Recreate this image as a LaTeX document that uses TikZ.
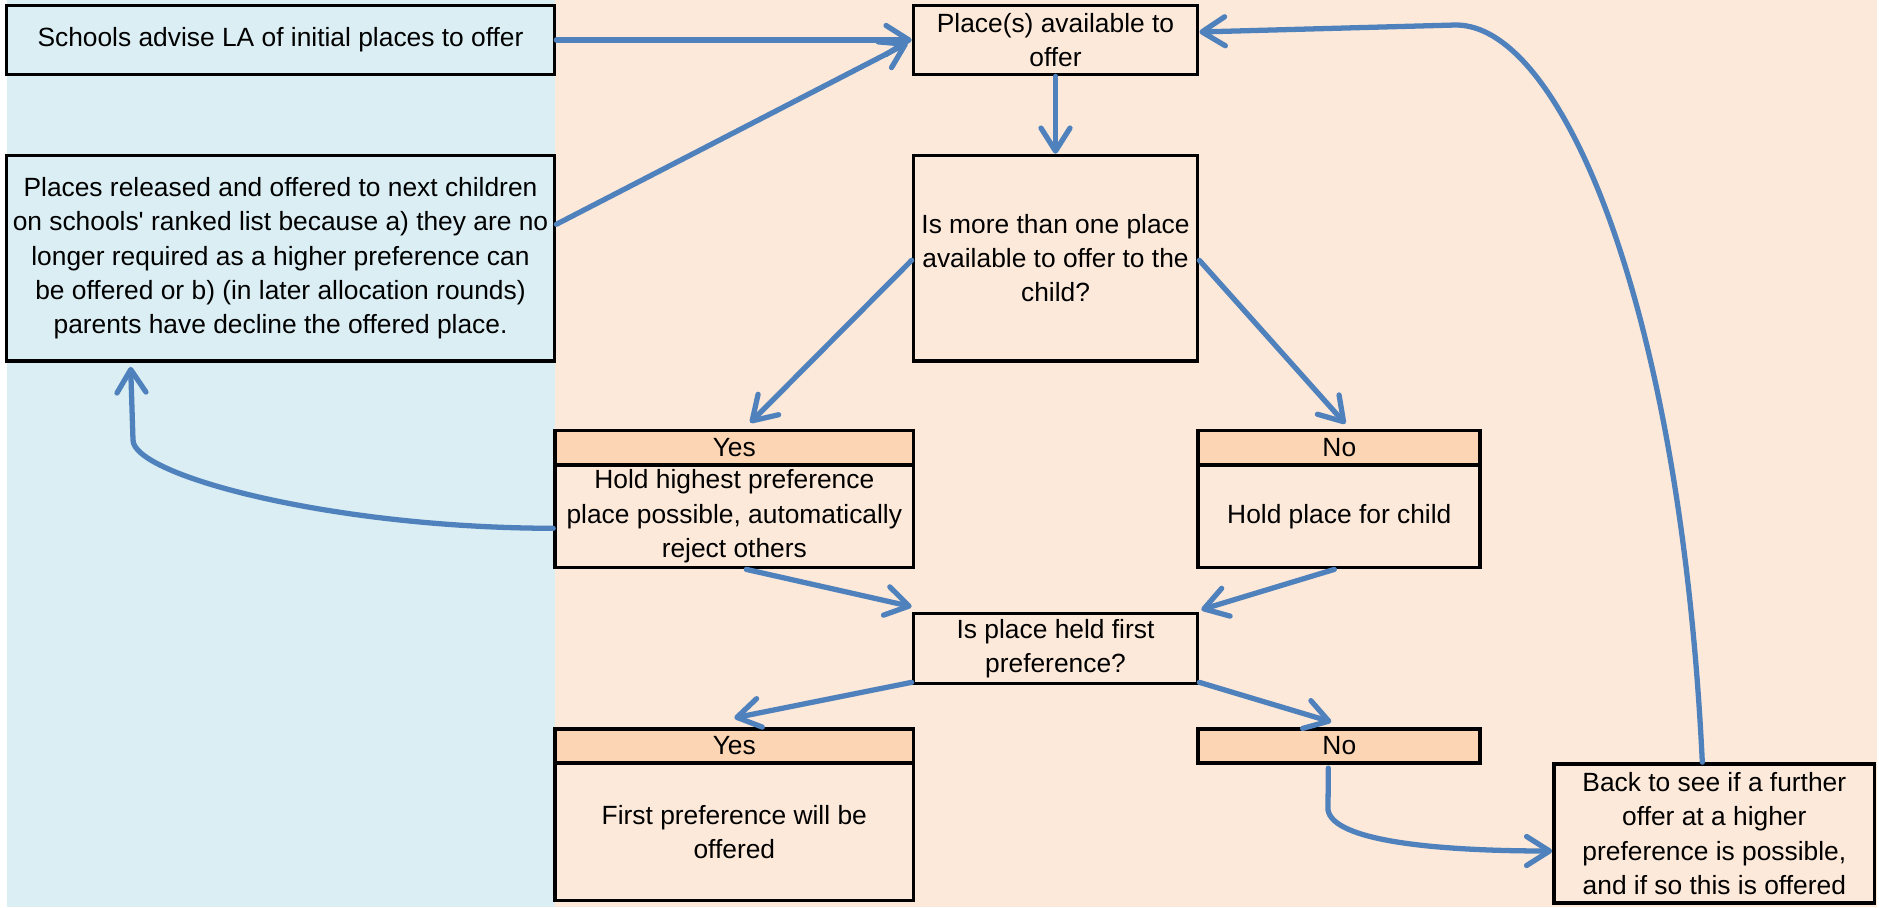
\documentclass[tikz,border=0pt]{standalone}
\usepackage{fontspec}
\setmainfont{Liberation Sans}
\usepackage{tikz}
\usetikzlibrary{arrows.meta,calc}
\usepackage{xcolor}
\definecolor{bluebg}{HTML}{DAEEF3}
\definecolor{peachbg}{HTML}{FDE9D9}
\definecolor{hdrfill}{HTML}{FCD5B4}
\definecolor{flowblue}{HTML}{4F81BD}

\begin{document}
\begin{tikzpicture}[x=0.2mm,y=-0.2mm]
      \tikzstyle{stage} = [rectangle, draw, line width=2.1pt, align=center, inner sep=2pt, font=\fontsize{15}{19.5}\selectfont]
      \tikzstyle{header} = [stage, fill=hdrfill, minimum height=6.9mm]
      \tikzstyle{flow} = [draw=flowblue, line width=3pt, line cap=round, -{Straight Barb[length=4.6mm,width=5.8mm,round]}]

      \useasboundingbox (0,0) rectangle (1879,908);
      \fill[bluebg] (7,0) rectangle (555,907);
      \fill[peachbg] (555,0) rectangle (1877,907);

      \node[stage, minimum width=109.6mm, minimum height=13.8mm] (schools) at (280.5,40) {Schools advise LA of initial places to offer};
      \node[stage, minimum width=109.6mm, minimum height=41.1mm] (released) at (280.5,258.3) {Places released and offered to next children\\on schools\textquotesingle{} ranked list because a) they are no\\longer required as a higher preference can\\be offered or b) (in later allocation rounds)\\parents have decline the offered place.};
      \node[stage, minimum width=56.8mm, minimum height=13.8mm] (avail) at (1055.5,40) {Place(s) available to\\offer};
      \node[stage, minimum width=56.8mm, minimum height=41.1mm] (more) at (1055.5,258.3) {Is more than one place\\available to offer to the\\child?};

      \node[header, minimum width=71.7mm] (yesA) at (734.3,447.8) {Yes};
      \node[stage, minimum width=71.7mm, minimum height=20.5mm] (hold) at (734.3,516.3) {Hold highest preference\\place possible, automatically\\reject others};
      \node[header, minimum width=56.4mm] (noA) at (1339.3,447.8) {No};
      \node[stage, minimum width=56.4mm, minimum height=20.5mm] (holdchild) at (1339.3,516.3) {Hold place for child};

      \node[stage, minimum width=56.8mm, minimum height=14mm] (first) at (1055.5,648.5) {Is place held first\\preference?};

      \node[header, minimum width=71.7mm] (yesB) at (734.3,746) {Yes};
      \node[stage, minimum width=71.7mm, minimum height=27.5mm] (offered) at (734.3,831.8) {First preference will be\\offered};
      \node[header, minimum width=56.4mm] (noB) at (1339.3,746) {No};
      \node[stage, minimum width=64.1mm, minimum height=27.8mm] (back) at (1714.3,833.5) {Back to see if a further\\offer at a higher\\preference is possible,\\and if so this is offered};

      \draw[flow] (schools.east) -- (avail.west);
      \draw[flow] ($(released.east)+(0,-34)$) -- ($(avail.west)+(-4,3)$);
      \draw[flow] (avail.south) -- (more.north);
      \draw[flow] ($(more.west)+(0,2)$) -- ($(yesA.north)+(16,-6)$);
      \draw[flow] ($(more.east)+(0,2)$) -- ($(noA.north)+(6,-5)$);
      \draw[flow] ($(hold.south)+(12,0)$) -- ($(first.north west)+(0,-5)$);
      \draw[flow] ($(holdchild.south)+(-5,0)$) -- ($(first.north east)+(2,-2)$);
      \draw[flow] ($(first.south west)+(0,-3)$) -- ($(yesB.north)+(0,-9)$);
      \draw[flow] ($(first.south east)+(0,-3)$) -- ($(noB.north)+(-8,-5)$);
      \draw[flow] ($(noB.south)+(-11,3)$) -- (1328,810) .. controls (1333,840) and (1430,851) .. ($(back.west)+(0,17.5)$);
      \draw[flow] ($(back.north)+(-12,0)$) .. controls (1680,300) and (1560,25) .. (1456,25) -- ($(avail.east)+(0,-8)$);
      \draw[flow] ($(hold.west)+(0,12)$) .. controls (330,528) and (133,475) .. (133,440) -- ($(released.south west)+(126,4)$);
    \end{tikzpicture}
\end{document}
